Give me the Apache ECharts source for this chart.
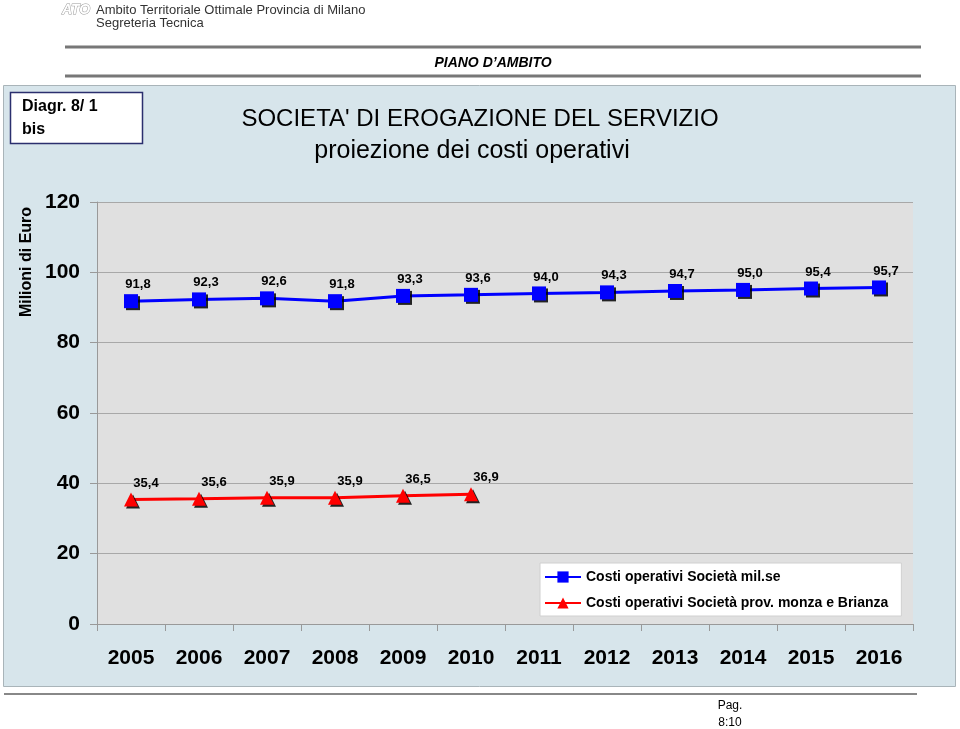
<!DOCTYPE html>
<html>
<head>
<meta charset="utf-8">
<script src="https://cdn.jsdelivr.net/npm/echarts@6/dist/echarts.min.js"></script>
<style>
html,body{margin:0;padding:0;background:#fff;}
#chart{width:960px;height:729px;}
</style>
</head>
<body>
<div id="chart"></div>
<script>
var categories = ['2005','2006','2007','2008','2009','2010','2011','2012','2013','2014','2015','2016'];
var milanoValues = [91.8, 92.3, 92.6, 91.8, 93.3, 93.6, 94.0, 94.3, 94.7, 95.0, 95.4, 95.7];
var monzaValues = [35.4, 35.6, 35.9, 35.9, 36.5, 36.9, null, null, null, null, null, null];
var yTicks = [0, 20, 40, 60, 80, 100, 120];
var seriesNames = ['Costi operativi Società mil.se', 'Costi operativi Società prov. monza e Brianza'];

var FONT = 'Liberation Sans, Arial, sans-serif';
var chart = echarts.init(document.getElementById('chart'), null, {renderer: 'canvas'});

function fmt(p) {
  if (p.value == null) return '';
  return Number(p.value).toFixed(1).replace('.', ',');
}

var option = {
  animation: false,
  backgroundColor: '#ffffff',
  textStyle: {fontFamily: FONT},
  graphic: [
    {type: 'rect', z: -10, shape: {x: 3.5, y: 85.5, width: 952, height: 601},
     style: {fill: '#d7e5eb', stroke: '#a9b4b9', lineWidth: 1}},
    {type: 'text', x: 62, y: 10, style: {text: 'ATO', font: 'bold italic 14px ' + FONT, fill: '#ffffff', stroke: '#9a9a9a', lineWidth: 1, textVerticalAlign: 'middle'}},
    {type: 'text', x: 96, y: 10, style: {text: 'Ambito Territoriale Ottimale Provincia di Milano', font: '13px ' + FONT, fill: '#333333', textVerticalAlign: 'middle'}},
    {type: 'text', x: 96, y: 23, style: {text: 'Segreteria Tecnica', font: '13px ' + FONT, fill: '#333333', textVerticalAlign: 'middle'}},
    {type: 'line', shape: {x1: 65, y1: 47, x2: 921, y2: 47}, style: {stroke: '#777777', lineWidth: 3}},
    {type: 'text', x: 493, y: 63, style: {text: 'PIANO D\u2019AMBITO', font: 'italic bold 14px ' + FONT, fill: '#000', textAlign: 'center', textVerticalAlign: 'middle'}},
    {type: 'line', shape: {x1: 65, y1: 76, x2: 921, y2: 76}, style: {stroke: '#777777', lineWidth: 3}},
    {type: 'rect', shape: {x: 10.5, y: 92.5, width: 132, height: 51}, style: {fill: '#ffffff', stroke: '#2b2f6e', lineWidth: 1.5}},
    {type: 'text', x: 22, y: 107, style: {text: 'Diagr. 8/ 1', font: 'bold 16px ' + FONT, fill: '#000', textVerticalAlign: 'middle'}},
    {type: 'text', x: 22, y: 130, style: {text: 'bis', font: 'bold 16px ' + FONT, fill: '#000', textVerticalAlign: 'middle'}},
    {type: 'text', x: 480, y: 119, style: {text: "SOCIETA' DI EROGAZIONE DEL SERVIZIO", font: '24px ' + FONT, fill: '#000', textAlign: 'center', textVerticalAlign: 'middle'}},
    {type: 'text', x: 472, y: 151, style: {text: 'proiezione dei costi operativi', font: '25px ' + FONT, fill: '#000', textAlign: 'center', textVerticalAlign: 'middle'}},
    {type: 'text', x: 27, y: 262, rotation: Math.PI / 2, style: {text: 'Milioni di Euro', font: 'bold 16px ' + FONT, fill: '#000', textAlign: 'center', textVerticalAlign: 'middle'}},
    {type: 'line', shape: {x1: 4, y1: 694, x2: 917, y2: 694}, style: {stroke: '#888888', lineWidth: 2}},
    {type: 'text', x: 730, y: 706, style: {text: 'Pag.', font: '12px ' + FONT, fill: '#000', textAlign: 'center', textVerticalAlign: 'middle'}},
    {type: 'text', x: 730, y: 723, style: {text: '8:10', font: '12px ' + FONT, fill: '#000', textAlign: 'center', textVerticalAlign: 'middle'}}
  ],
  grid: {
    left: 97, right: 47, top: 202, bottom: 105,
    show: true, backgroundColor: '#e0e0e0', borderWidth: 0
  },
  legend: {
    orient: 'vertical',
    left: 540, top: 563,
    padding: [7, 13, 6, 4],
    itemGap: 12,
    itemWidth: 36, itemHeight: 14,
    backgroundColor: '#ffffff',
    borderColor: '#d0d0d0', borderWidth: 1,
    textStyle: {fontFamily: FONT, fontWeight: 'bold', fontSize: 14, color: '#000'},
    data: seriesNames
  },
  xAxis: {
    type: 'category',
    data: categories,
    boundaryGap: true,
    axisLine: {show: true, lineStyle: {color: '#999999', width: 1}},
    axisTick: {show: true, length: 7, lineStyle: {color: '#999999'}},
    axisLabel: {fontFamily: FONT, fontWeight: 'bold', fontSize: 21, color: '#000', margin: 24, interval: 0},
    splitLine: {show: false}
  },
  yAxis: {
    type: 'value',
    min: yTicks[0], max: yTicks[yTicks.length - 1], interval: 20,
    axisLine: {show: true, lineStyle: {color: '#999999', width: 1}},
    axisTick: {show: true, length: 7, lineStyle: {color: '#999999'}},
    axisLabel: {fontFamily: FONT, fontWeight: 'bold', fontSize: 21, color: '#000', margin: 17},
    splitLine: {show: true, lineStyle: {color: '#a8a8a8', width: 1}}
  },
  series: [
    {
      name: seriesNames[0],
      type: 'line',
      data: milanoValues,
      symbol: 'rect', symbolSize: 14,
      lineStyle: {color: '#0000ff', width: 3},
      itemStyle: {color: '#0000ff', shadowColor: 'rgba(0,0,0,0.85)', shadowOffsetX: 2, shadowOffsetY: 2, shadowBlur: 0},
      label: {show: true, position: 'top', distance: 3, offset: [7, 0], formatter: fmt,
        fontFamily: FONT, fontWeight: 'bold', fontSize: 13, color: '#000'},
      z: 3
    },
    {
      name: seriesNames[1],
      type: 'line',
      data: monzaValues,
      symbol: 'triangle', symbolSize: 14,
      lineStyle: {color: '#ff0000', width: 3},
      itemStyle: {color: '#ff0000', shadowColor: 'rgba(0,0,0,0.85)', shadowOffsetX: 2, shadowOffsetY: 2, shadowBlur: 0},
      label: {show: true, position: 'top', distance: 3, offset: [15, 0], formatter: fmt,
        fontFamily: FONT, fontWeight: 'bold', fontSize: 13, color: '#000'},
      z: 3
    }
  ]
};
chart.setOption(option);
</script>
</body>
</html>
